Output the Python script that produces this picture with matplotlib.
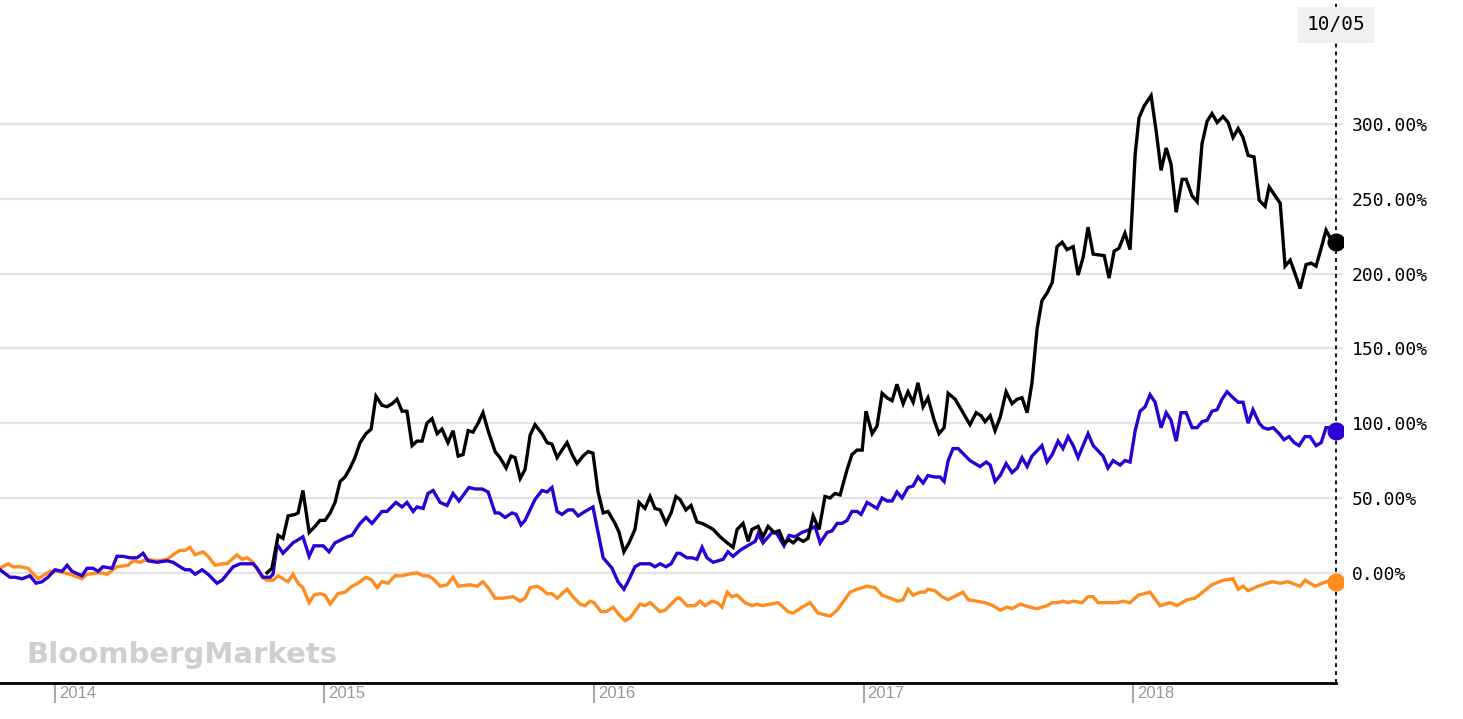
import matplotlib
matplotlib.use("Agg")
import matplotlib.pyplot as plt
import matplotlib.transforms as mtransforms

# cumulative return (%) vs time (decimal years)
orange_t = [2013.796, 2013.826, 2013.844, 2013.870, 2013.900, 2013.937, 2013.982, 2014.011, 2014.056, 2014.100,
            2014.119, 2014.167, 2014.193, 2014.230, 2014.271, 2014.290, 2014.316, 2014.342, 2014.379, 2014.416,
            2014.438, 2014.464, 2014.483, 2014.501, 2014.520, 2014.549, 2014.568, 2014.594, 2014.620, 2014.638,
            2014.675, 2014.694, 2014.713, 2014.735, 2014.768, 2014.787, 2014.809, 2014.828, 2014.854, 2014.865,
            2014.883, 2014.902, 2014.920, 2014.943, 2014.961, 2014.983, 2015.002, 2015.021, 2015.050, 2015.076,
            2015.102, 2015.124, 2015.154, 2015.176, 2015.195, 2015.213, 2015.236, 2015.262, 2015.288, 2015.310,
            2015.343, 2015.366, 2015.384, 2015.403, 2015.429, 2015.455, 2015.477, 2015.496, 2015.540, 2015.566,
            2015.588, 2015.607, 2015.633, 2015.662, 2015.700, 2015.726, 2015.744, 2015.763, 2015.789, 2015.807,
            2015.826, 2015.844, 2015.863, 2015.900, 2015.922, 2015.948, 2015.967, 2015.985, 2016.000, 2016.026,
            2016.045, 2016.071, 2016.093, 2016.115, 2016.134, 2016.171, 2016.189, 2016.208, 2016.245, 2016.264,
            2016.308, 2016.319, 2016.345, 2016.375, 2016.393, 2016.412, 2016.438, 2016.457, 2016.475, 2016.494,
            2016.512, 2016.531, 2016.560, 2016.586, 2016.605, 2016.624, 2016.653, 2016.683, 2016.720, 2016.739,
            2016.772, 2016.802, 2016.831, 2016.876, 2016.902, 2016.950, 2016.976, 2017.013, 2017.043, 2017.069,
            2017.098, 2017.128, 2017.147, 2017.165, 2017.184, 2017.210, 2017.228, 2017.239, 2017.265, 2017.291,
            2017.314, 2017.347, 2017.369, 2017.388, 2017.421, 2017.451, 2017.481, 2017.507, 2017.533, 2017.551,
            2017.581, 2017.618, 2017.644, 2017.681, 2017.700, 2017.722, 2017.740, 2017.759, 2017.778, 2017.811,
            2017.833, 2017.852, 2017.870, 2017.904, 2017.941, 2017.963, 2017.989, 2018.019, 2018.063, 2018.100,
            2018.137, 2018.163, 2018.201, 2018.230, 2018.293, 2018.334, 2018.371, 2018.390, 2018.408, 2018.427,
            2018.464, 2018.516, 2018.546, 2018.575, 2018.620, 2018.638, 2018.675, 2018.731, 2018.753]
orange_v = [3, 6, 4, 4, 3, -4, 1, 1, -1, -4,
            -1, 0, -1, 4, 5, 8, 7, 9, 8, 9,
            12, 15, 15, 17, 12, 14, 11, 5, 6, 6,
            12, 9, 10, 7, -3, -5, -5, -2, -5, -6,
            -1, -7, -10, -20, -15, -14, -15, -21, -14, -13,
            -9, -7, -3, -5, -10, -6, -7, -2, -2, -1,
            0, -2, -2, -4, -9, -8, -3, -9, -8, -9,
            -6, -10, -17, -17, -16, -19, -17, -10, -9, -11,
            -14, -14, -17, -11, -16, -21, -22, -19, -20, -26,
            -26, -23, -28, -32, -30, -21, -22, -20, -26, -25,
            -17, -17, -22, -22, -19, -22, -19, -20, -23, -13,
            -16, -15, -20, -22, -21, -22, -21, -20, -26, -27,
            -23, -20, -27, -29, -25, -13, -11, -9, -10, -15,
            -17, -19, -18, -11, -15, -13, -13, -11, -12, -16,
            -18, -15, -13, -18, -19, -20, -22, -25, -23, -24,
            -21, -23, -24, -22, -20, -20, -19, -20, -19, -20,
            -16, -16, -20, -20, -20, -19, -20, -15, -13, -22,
            -20, -22, -18, -17, -8, -5, -4, -11, -9, -12,
            -9, -6, -7, -6, -9, -5, -9, -5, -6]

blue_t = [2013.796, 2013.833, 2013.852, 2013.878, 2013.907, 2013.930, 2013.952, 2013.974, 2014.000, 2014.026,
          2014.045, 2014.063, 2014.100, 2014.119, 2014.141, 2014.160, 2014.178, 2014.212, 2014.230, 2014.252,
          2014.278, 2014.304, 2014.327, 2014.345, 2014.379, 2014.416, 2014.438, 2014.464, 2014.483, 2014.501,
          2014.520, 2014.546, 2014.568, 2014.601, 2014.620, 2014.661, 2014.687, 2014.735, 2014.750, 2014.772,
          2014.798, 2014.809, 2014.824, 2014.846, 2014.883, 2014.920, 2014.943, 2014.961, 2014.995, 2015.017,
          2015.039, 2015.084, 2015.102, 2015.132, 2015.154, 2015.176, 2015.195, 2015.213, 2015.232, 2015.265,
          2015.288, 2015.306, 2015.329, 2015.343, 2015.366, 2015.384, 2015.403, 2015.429, 2015.455, 2015.477,
          2015.499, 2015.536, 2015.559, 2015.585, 2015.607, 2015.633, 2015.648, 2015.670, 2015.696, 2015.711,
          2015.729, 2015.744, 2015.781, 2015.807, 2015.826, 2015.844, 2015.863, 2015.881, 2015.904, 2015.922,
          2015.941, 2015.967, 2015.996, 2016.034, 2016.067, 2016.089, 2016.111, 2016.126, 2016.152, 2016.171,
          2016.208, 2016.226, 2016.245, 2016.267, 2016.286, 2016.308, 2016.319, 2016.345, 2016.364, 2016.382,
          2016.401, 2016.419, 2016.442, 2016.479, 2016.497, 2016.516, 2016.542, 2016.560, 2016.579, 2016.598,
          2016.609, 2016.627, 2016.661, 2016.679, 2016.705, 2016.724, 2016.746, 2016.772, 2016.802, 2016.820,
          2016.839, 2016.865, 2016.883, 2016.902, 2016.920, 2016.939, 2016.957, 2016.976, 2016.991, 2017.013,
          2017.032, 2017.050, 2017.069, 2017.087, 2017.106, 2017.124, 2017.143, 2017.165, 2017.184, 2017.202,
          2017.221, 2017.239, 2017.265, 2017.284, 2017.299, 2017.314, 2017.332, 2017.351, 2017.395, 2017.432,
          2017.455, 2017.470, 2017.488, 2017.507, 2017.529, 2017.551, 2017.570, 2017.588, 2017.607, 2017.625,
          2017.662, 2017.681, 2017.700, 2017.722, 2017.740, 2017.759, 2017.778, 2017.796, 2017.833, 2017.852,
          2017.889, 2017.907, 2017.926, 2017.952, 2017.970, 2017.989, 2018.008, 2018.026, 2018.045, 2018.063,
          2018.082, 2018.104, 2018.123, 2018.141, 2018.160, 2018.178, 2018.197, 2018.219, 2018.238, 2018.256,
          2018.275, 2018.293, 2018.312, 2018.330, 2018.349, 2018.371, 2018.390, 2018.408, 2018.427, 2018.445,
          2018.468, 2018.483, 2018.501, 2018.520, 2018.542, 2018.560, 2018.579, 2018.598, 2018.616, 2018.638,
          2018.657, 2018.679, 2018.698, 2018.716, 2018.731, 2018.753]
blue_v = [2, -3, -3, -4, -2, -7, -6, -3, 2, 1,
          5, 1, -2, 3, 3, 1, 4, 3, 11, 11,
          10, 10, 13, 8, 7, 8, 7, 4, 2, 2,
          -1, 2, -1, -7, -5, 4, 6, 6, 3, -3,
          -3, -1, 19, 13, 20, 24, 11, 18, 18, 14,
          20, 24, 25, 33, 37, 33, 37, 41, 41, 47,
          44, 47, 41, 44, 43, 53, 55, 47, 45, 53,
          48, 57, 56, 56, 54, 40, 40, 37, 40, 39,
          32, 35, 49, 55, 54, 57, 41, 39, 42, 42,
          38, 41, 44, 10, 3, -6, -11, -6, 4, 6,
          6, 4, 6, 4, 6, 13, 13, 10, 10, 9,
          17, 10, 7, 9, 14, 11, 15, 17, 19, 21,
          26, 20, 27, 26, 18, 25, 24, 27, 29, 31,
          20, 27, 28, 33, 33, 35, 41, 41, 39, 47,
          45, 43, 50, 48, 48, 54, 50, 57, 58, 64,
          60, 65, 64, 64, 61, 75, 83, 83, 75, 71,
          74, 72, 61, 65, 73, 67, 70, 77, 71, 78,
          85, 74, 79, 88, 83, 91, 85, 77, 93, 85,
          78, 70, 75, 72, 75, 74, 95, 108, 111, 119,
          114, 97, 107, 102, 88, 107, 107, 97, 97, 101,
          102, 108, 109, 116, 121, 117, 114, 114, 100, 109,
          100, 97, 96, 97, 93, 89, 91, 87, 85, 91,
          91, 85, 87, 97, 97, 95]

black_t = [2014.787, 2014.805, 2014.828, 2014.846, 2014.865, 2014.891, 2014.902, 2014.920, 2014.943, 2014.965,
           2014.983, 2015.002, 2015.021, 2015.039, 2015.058, 2015.076, 2015.095, 2015.113, 2015.132, 2015.154,
           2015.173, 2015.191, 2015.213, 2015.232, 2015.251, 2015.269, 2015.288, 2015.306, 2015.325, 2015.343,
           2015.362, 2015.380, 2015.399, 2015.418, 2015.436, 2015.458, 2015.477, 2015.496, 2015.514, 2015.533,
           2015.551, 2015.570, 2015.588, 2015.607, 2015.633, 2015.651, 2015.674, 2015.692, 2015.707, 2015.726,
           2015.744, 2015.763, 2015.781, 2015.807, 2015.826, 2015.844, 2015.863, 2015.881, 2015.900, 2015.919,
           2015.937, 2015.959, 2015.978, 2015.996, 2016.015, 2016.034, 2016.052, 2016.078, 2016.093, 2016.111,
           2016.130, 2016.152, 2016.167, 2016.189, 2016.208, 2016.226, 2016.245, 2016.267, 2016.286, 2016.304,
           2016.319, 2016.341, 2016.360, 2016.382, 2016.401, 2016.423, 2016.442, 2016.468, 2016.494, 2016.516,
           2016.531, 2016.553, 2016.572, 2016.586, 2016.609, 2016.627, 2016.646, 2016.668, 2016.687, 2016.705,
           2016.724, 2016.739, 2016.757, 2016.776, 2016.794, 2016.813, 2016.835, 2016.857, 2016.876, 2016.894,
           2016.913, 2016.939, 2016.957, 2016.976, 2016.995, 2017.009, 2017.032, 2017.050, 2017.069, 2017.087,
           2017.106, 2017.124, 2017.147, 2017.165, 2017.184, 2017.202, 2017.221, 2017.239, 2017.262, 2017.280,
           2017.299, 2017.314, 2017.340, 2017.366, 2017.395, 2017.418, 2017.436, 2017.451, 2017.470, 2017.488,
           2017.507, 2017.529, 2017.551, 2017.570, 2017.588, 2017.607, 2017.625, 2017.644, 2017.662, 2017.681,
           2017.700, 2017.718, 2017.737, 2017.755, 2017.778, 2017.796, 2017.815, 2017.833, 2017.852, 2017.893,
           2017.911, 2017.930, 2017.948, 2017.970, 2017.989, 2018.008, 2018.022, 2018.041, 2018.067, 2018.086,
           2018.104, 2018.123, 2018.141, 2018.160, 2018.182, 2018.197, 2018.219, 2018.238, 2018.256, 2018.275,
           2018.293, 2018.312, 2018.334, 2018.353, 2018.371, 2018.390, 2018.408, 2018.427, 2018.449, 2018.468,
           2018.490, 2018.505, 2018.527, 2018.546, 2018.564, 2018.583, 2018.601, 2018.620, 2018.642, 2018.661,
           2018.679, 2018.698, 2018.716, 2018.731, 2018.753]
black_v = [0, 3, 25, 23, 38, 39, 40, 55, 27, 31,
           35, 35, 40, 47, 61, 64, 70, 77, 87, 93,
           96, 118, 112, 111, 113, 116, 108, 108, 85, 88,
           88, 100, 103, 93, 96, 87, 95, 78, 79, 95,
           94, 100, 107, 95, 81, 77, 70, 78, 77, 63,
           69, 92, 99, 93, 87, 86, 77, 82, 87, 79,
           73, 78, 81, 80, 54, 40, 41, 33, 27, 14,
           20, 29, 47, 43, 51, 43, 42, 33, 40, 51,
           49, 42, 45, 34, 33, 31, 29, 24, 20, 17,
           29, 33, 21, 29, 31, 24, 31, 27, 28, 20,
           22, 20, 23, 21, 23, 38, 29, 51, 50, 53,
           52, 69, 79, 82, 82, 108, 93, 98, 120, 117,
           115, 126, 113, 121, 114, 127, 111, 117, 102, 93,
           97, 120, 116, 108, 99, 107, 105, 101, 105, 95,
           104, 121, 113, 116, 117, 107, 127, 163, 182, 187,
           194, 218, 221, 216, 218, 199, 211, 231, 213, 212,
           197, 215, 217, 227, 216, 280, 304, 312, 319, 295,
           269, 284, 273, 241, 263, 263, 252, 248, 287, 302,
           307, 301, 305, 301, 291, 297, 291, 279, 278, 249,
           245, 258, 252, 247, 205, 209, 200, 190, 206, 207,
           205, 217, 229, 224, 221]

years = [2014, 2015, 2016, 2017, 2018]
y_ticks = [0, 50, 100, 150, 200, 250, 300]
last_date_label = "10/05"

c_black = "#000000"
c_blue = "#2b00d4"
c_orange = "#ff8c1e"

fig = plt.figure(figsize=(14.63, 7.19), dpi=100)
ax = fig.add_axes([0, 1 - 683 / 719, 1343 / 1463, 683 / 719])

end = black_t[-1]
ax.set_xlim(orange_t[0], 2018.779)
ax.set_ylim(-73.7, 382.9)

# watermark
fig.text(26 / 1463, 1 - 655 / 719, "BloombergMarkets", fontsize=21, fontweight="bold",
         family="DejaVu Sans", color="#cfcfcf", ha="left", va="center", zorder=0)

for v in y_ticks:
    ax.axhline(v, color="#e3e3e3", lw=1.6, zorder=1)

ax.plot(orange_t, orange_v, color=c_orange, lw=2.4, zorder=3, solid_joinstyle="miter")
ax.plot(blue_t, blue_v, color=c_blue, lw=2.4, zorder=4, solid_joinstyle="miter")
ax.plot(black_t, black_v, color=c_black, lw=2.4, zorder=5, solid_joinstyle="miter")

ax.axvline(end, color="black", lw=1.3, ls=(0, (2.2, 2.2)), zorder=2)

for t, v, c in [(orange_t, orange_v, c_orange), (blue_t, blue_v, c_blue), (black_t, black_v, c_black)]:
    ax.plot(t[-1], v[-1], "o", color=c, ms=12, zorder=6)

# y labels on the right
ax.yaxis.tick_right()
ax.set_yticks(y_ticks)
ax.set_yticklabels([f"{v:.2f}%" for v in y_ticks], family="DejaVu Sans Mono", fontsize=13)
ax.tick_params(axis="y", length=0, pad=6.5)

# x axis: year ticks with labels to the right of the tick
ax.set_xticks(years)
ax.set_xticklabels([])
ax.tick_params(axis="x", length=14.4, width=1.5, color="#aaaaaa", direction="out")
for yr in years:
    ax.annotate(str(yr), xy=(yr, 0), xycoords=("data", "axes fraction"),
                xytext=(4, -10), textcoords="offset pixels", ha="left", va="center",
                color="#999999", fontsize=12, family="Liberation Sans")

for s in ["top", "left", "right"]:
    ax.spines[s].set_visible(False)
ax.spines["bottom"].set_linewidth(2)
ax.spines["bottom"].set_bounds(orange_t[0], end)

# date box at top of the cursor line
trans = mtransforms.blended_transform_factory(ax.transData, ax.transAxes)
ax.text(end, 1 - 25 / 683, last_date_label, transform=trans, ha="center", va="center",
        fontsize=14, family="DejaVu Sans Mono", zorder=7,
        bbox=dict(facecolor="#f0f0f0", edgecolor="none", boxstyle="square,pad=0.45"))

fig.savefig("out.png", dpi=100, facecolor="white")
